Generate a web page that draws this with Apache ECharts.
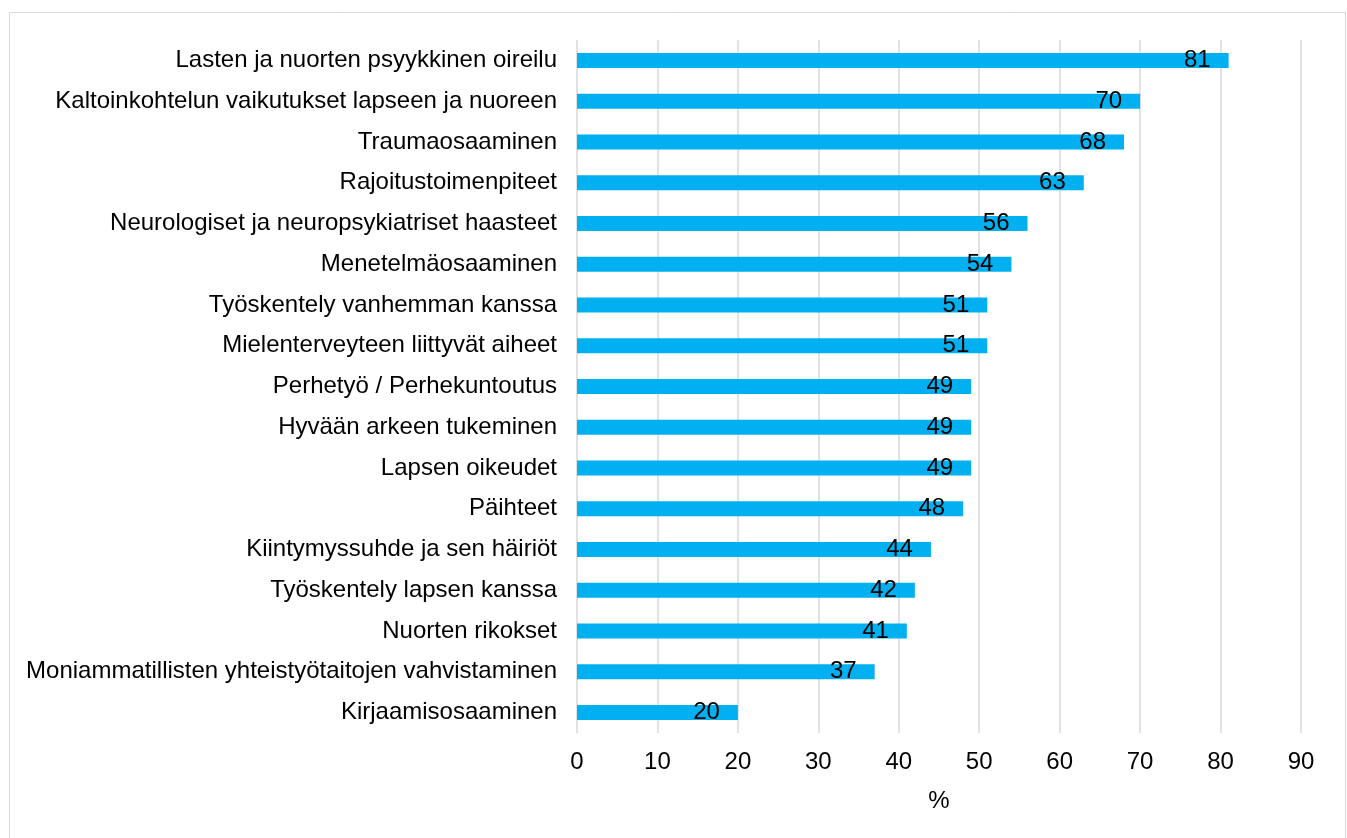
<!DOCTYPE html>
<html><head><meta charset="utf-8">
<script src="https://cdn.jsdelivr.net/npm/echarts@6/dist/echarts.min.js"></script>
<style>html,body{margin:0;padding:0;background:#fff}#c{width:1347px;height:838px}</style>
</head><body><div id="c"></div>
<script>
const categories = [
  "Lasten ja nuorten psyykkinen oireilu",
  "Kaltoinkohtelun vaikutukset lapseen ja nuoreen",
  "Traumaosaaminen",
  "Rajoitustoimenpiteet",
  "Neurologiset ja neuropsykiatriset haasteet",
  "Menetelmäosaaminen",
  "Työskentely vanhemman kanssa",
  "Mielenterveyteen liittyvät aiheet",
  "Perhetyö / Perhekuntoutus",
  "Hyvään arkeen tukeminen",
  "Lapsen oikeudet",
  "Päihteet",
  "Kiintymyssuhde ja sen häiriöt",
  "Työskentely lapsen kanssa",
  "Nuorten rikokset",
  "Moniammatillisten yhteistyötaitojen vahvistaminen",
  "Kirjaamisosaaminen"
];
const values = [81, 70, 68, 63, 56, 54, 51, 51, 49, 49, 49, 48, 44, 42, 41, 37, 20];
const axisName = "%";

const chart = echarts.init(document.getElementById('c'), null, {renderer: 'canvas'});
const font = "'Liberation Sans', Arial, sans-serif";
chart.setOption({
  animation: false,
  backgroundColor: '#fff',
  graphic: [{
    type: 'rect', left: 7, top: 10,
    shape: {width: 1336, height: 840},
    style: {fill: 'none', stroke: '#d9d9d9', lineWidth: 1}
  }],
  grid: {left: 577, right: 46, top: 40, bottom: 105, containLabel: false},
  xAxis: {
    type: 'value', min: 0, max: 90, interval: 10,
    name: axisName, nameLocation: 'middle', nameGap: 56,
    nameTextStyle: {fontFamily: font, fontSize: 24, color: '#000'},
    axisLine: {show: false}, axisTick: {show: false},
    axisLabel: {fontFamily: font, fontSize: 24, color: '#000', margin: 17},
    splitLine: {show: true, lineStyle: {color: '#d9d9d9', width: 1.5}}
  },
  yAxis: {
    type: 'category', data: categories, inverse: true,
    axisLine: {show: false}, axisTick: {show: false},
    axisLabel: {fontFamily: font, fontSize: 24, color: '#000', margin: 20}
  },
  series: [{
    type: 'bar', data: values, barWidth: 15,
    itemStyle: {color: '#00B0F0'},
    label: {show: true, position: 'insideRight', distance: 18,
      fontFamily: font, fontSize: 24, color: '#000'}
  }]
});
</script></body></html>
